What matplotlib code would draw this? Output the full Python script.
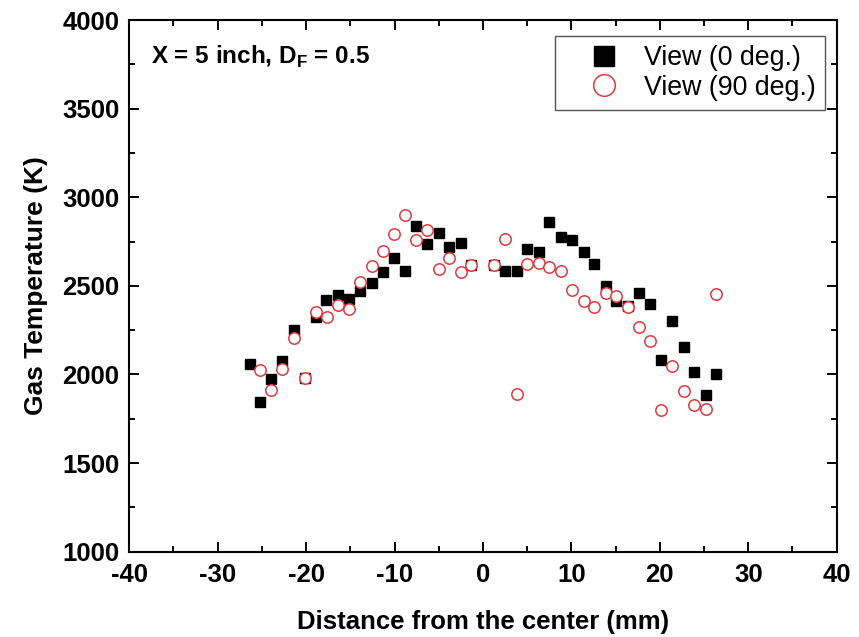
import numpy as np
import matplotlib
matplotlib.use("Agg")
import matplotlib.pyplot as plt
from matplotlib.ticker import MultipleLocator

# data
x_0deg = [-26.4, -25.2, -24.0, -22.7, -21.4, -20.1, -18.9, -17.7, -16.4, -15.1,
          -13.9, -12.6, -11.35, -10.1, -8.8, -7.6, -6.3, -5.0, -3.8, -2.5,
          -1.3, 1.2, 2.5, 3.8, 5.0, 6.3, 7.5, 8.8, 10.1, 11.4,
          12.6, 13.9, 15.1, 16.4, 17.7, 18.9, 20.1, 21.4, 22.7, 23.9,
          25.2, 26.4]
t_0deg = [2060, 1843, 1973, 2078, 2251, 1982, 2326, 2419, 2447, 2426,
          2471, 2516, 2578, 2657, 2586, 2838, 2738, 2797, 2722, 2740,
          2618, 2620, 2584, 2584, 2710, 2693, 2861, 2774, 2759, 2693,
          2622, 2498, 2417, 2385, 2458, 2396, 2080, 2302, 2153, 2014,
          1884, 2005]

x_90deg = [-25.2, -24.0, -22.7, -21.4, -20.1, -18.9, -17.6, -16.4, -15.1, -13.9,
           -12.6, -11.35, -10.1, -8.8, -7.6, -6.3, -5.0, -3.8, -2.5, -1.3,
           1.2, 2.5, 3.8, 5.0, 6.3, 7.5, 8.8, 10.1, 11.4, 12.6,
           13.9, 15.1, 16.4, 17.7, 18.9, 20.1, 21.4, 22.7, 23.9, 25.2,
           26.4]
t_90deg = [2027, 1914, 2031, 2206, 1982, 2351, 2326, 2390, 2371, 2522,
           2612, 2697, 2793, 2900, 2759, 2814, 2597, 2655, 2579, 2616,
           2616, 2767, 1890, 2622, 2631, 2605, 2582, 2479, 2415, 2381,
           2458, 2445, 2383, 2270, 2191, 1800, 2050, 1909, 1826, 1806,
           2453]

label_0 = "View (0 deg.)"
label_90 = "View (90 deg.)"
note = r"X = 5 inch, D$_{\mathbf{F}}$ = 0.5"

red = "#e0393e"

plt.rcParams['font.family'] = ['Liberation Sans', 'DejaVu Sans']
plt.rcParams['axes.unicode_minus'] = False
plt.rcParams['mathtext.fontset'] = 'custom'
plt.rcParams['mathtext.rm'] = 'Liberation Sans:bold'
plt.rcParams['mathtext.bf'] = 'Liberation Sans:bold'

fig = plt.figure(figsize=(8.59, 6.37), dpi=100)
ax = fig.add_axes([0.1505, 0.1339, 0.8235, 0.8347])

ax.plot(x_0deg, t_0deg, linestyle='none', marker='s', markersize=7.5,
        color='black', label=label_0, zorder=3)
ax.plot(x_90deg, t_90deg, linestyle='none', marker='o', markersize=8.2,
        markerfacecolor='white', markeredgecolor=red, markeredgewidth=1.1,
        label=label_90, zorder=4)

ax.set_xlim(-40, 40)
ax.set_ylim(1000, 4000)
ax.xaxis.set_major_locator(MultipleLocator(10))
ax.xaxis.set_minor_locator(MultipleLocator(5))
ax.yaxis.set_major_locator(MultipleLocator(500))
ax.yaxis.set_minor_locator(MultipleLocator(250))

ax.tick_params(which='both', direction='in', top=True, right=True, width=1.4)
ax.tick_params(which='major', length=7.5, labelsize=18.5)
ax.tick_params(axis='x', which='major', pad=8)
ax.tick_params(axis='y', which='major', pad=7)
ax.tick_params(which='minor', length=4)
for lab in ax.get_xticklabels() + ax.get_yticklabels():
    lab.set_fontweight('bold')
for sp in ax.spines.values():
    sp.set_linewidth(1.5)

ax.set_xlabel("Distance from the center (mm)", fontsize=18.5, fontweight='bold', labelpad=17)
ax.set_ylabel("Gas Temperature (K)", fontsize=19, fontweight='bold', labelpad=10)

ax.text(0.03, 0.93, note, transform=ax.transAxes, fontsize=17.5,
        fontweight='bold', va='center', ha='left')

leg = ax.legend(loc='upper right', bbox_to_anchor=(0.9835, 0.970),
                borderaxespad=0, fontsize=19.3, markerscale=1.9,
                fancybox=False, framealpha=1, edgecolor='#555555',
                handletextpad=0.05, borderpad=0.35, labelspacing=0.12,
                handlelength=2.9)
leg.get_frame().set_linewidth(1.0)

fig.savefig("out.png", dpi=100)
